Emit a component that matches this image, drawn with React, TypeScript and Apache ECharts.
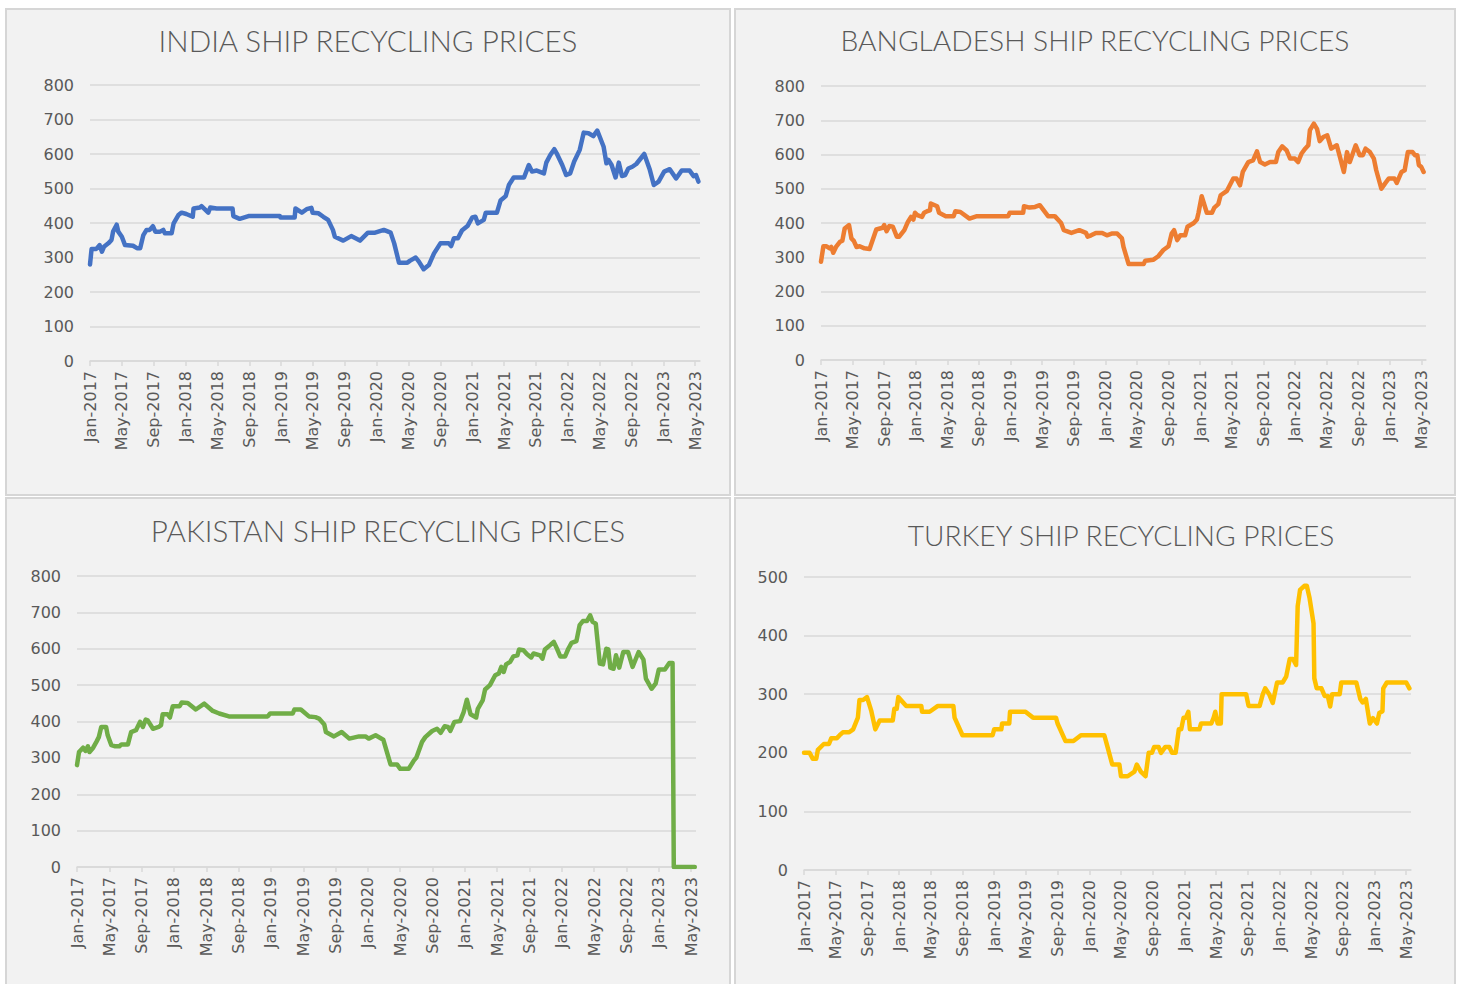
import React, { useEffect, useRef } from 'react';
import * as echarts from 'echarts';

// ---------- tick labels ----------
const xTickLabels = [
  'Jan-2017', 'May-2017', 'Sep-2017', 'Jan-2018', 'May-2018', 'Sep-2018', 'Jan-2019',
  'May-2019', 'Sep-2019', 'Jan-2020', 'May-2020', 'Sep-2020', 'Jan-2021', 'May-2021',
  'Sep-2021', 'Jan-2022', 'May-2022', 'Sep-2022', 'Jan-2023', 'May-2023',
];
const MONTHS_PER_TICK = 4;

// ---------- data: months since Jan-2017, price (USD/LDT) ----------
const indiaMonth = [0, 0.2, 0.8, 1.2, 1.5, 1.75, 2.3, 2.7, 2.9, 3.35, 3.55, 4.0, 4.4, 5.4, 5.9, 6.3, 6.7, 7.1, 7.5, 7.9, 8.2, 8.8, 9.2, 9.4, 10.25, 10.5, 11.1, 11.5, 12.1, 12.9, 13.0, 13.8, 14.0, 14.4, 14.85, 15.1, 15.9, 17.9, 18.0, 18.8, 19.9, 23.85, 23.9, 25.7, 25.8, 26.6, 27.2, 27.8, 27.95, 28.7, 29.3, 29.9, 30.5, 30.75, 31.8, 32.8, 33.9, 34.9, 35.8, 36.9, 37.75, 38.2, 38.8, 39.85, 40.2, 40.9, 41.3, 41.9, 42.55, 43.2, 44.0, 45.05, 45.35, 45.7, 46.2, 46.7, 47.4, 48.0, 48.4, 48.7, 49.45, 49.7, 51.1, 51.55, 52.2, 52.6, 53.2, 54.5, 55.1, 55.5, 56.1, 57.0, 57.3, 57.8, 58.3, 58.6, 59.3, 59.8, 60.3, 60.8, 61.5, 62.0, 62.6, 63.2, 63.7, 64.5, 64.85, 65.1, 65.5, 66.0, 66.4, 66.8, 67.2, 67.6, 68.1, 68.6, 69.6, 70.3, 70.8, 71.4, 72.1, 72.8, 73.6, 74.3, 75.3, 75.8, 76.1, 76.4];
const indiaPrice = [280, 325, 325, 336, 317, 331, 341, 351, 375, 395, 375, 360, 336, 334, 327, 327, 365, 380, 380, 391, 375, 375, 380, 370, 370, 399, 423, 430, 426, 418, 442, 445, 449, 440, 430, 445, 442, 442, 420, 412, 420, 420, 416, 416, 442, 430, 440, 444, 430, 428, 418, 409, 380, 360, 349, 362, 349, 372, 372, 380, 372, 341, 285, 285, 291, 300, 288, 266, 278, 312, 341, 341, 333, 356, 356, 378, 391, 416, 418, 399, 409, 430, 430, 465, 478, 510, 532, 532, 568, 549, 552, 544, 575, 597, 614, 602, 568, 539, 544, 578, 612, 662, 660, 652, 668, 621, 573, 583, 568, 532, 575, 536, 539, 558, 563, 571, 600, 554, 510, 520, 549, 556, 529, 552, 552, 536, 539, 520];

const bangladeshMonth = [0, 0.3, 0.7, 1.1, 1.3, 1.55, 1.9, 2.4, 2.7, 3.0, 3.55, 3.85, 4.15, 4.5, 4.9, 5.5, 6.15, 7.0, 7.8, 8.0, 8.3, 8.65, 9.1, 9.6, 9.9, 10.55, 11.0, 11.4, 11.7, 11.9, 12.2, 12.8, 13.05, 13.5, 13.8, 13.9, 14.7, 14.95, 15.8, 16.8, 17.0, 17.65, 18.8, 19.75, 23.7, 23.9, 25.6, 25.7, 26.4, 27.1, 27.7, 28.75, 29.6, 30.4, 30.75, 31.7, 32.7, 33.55, 33.75, 34.2, 34.8, 35.6, 36.2, 36.8, 37.5, 38.1, 38.3, 38.95, 40.85, 41.05, 42.1, 42.7, 43.35, 44.0, 44.4, 44.7, 45.1, 45.5, 46.1, 46.4, 47.2, 47.6, 47.8, 48.2, 48.85, 49.5, 49.8, 50.3, 50.6, 51.4, 52.2, 52.6, 53.05, 53.4, 54.1, 54.7, 55.2, 55.6, 56.2, 56.85, 57.6, 57.9, 58.4, 58.95, 59.4, 60.0, 60.4, 60.85, 61.3, 61.7, 61.9, 62.4, 62.8, 63.15, 63.6, 64.1, 64.6, 65.3, 65.7, 66.2, 66.6, 66.95, 67.7, 68.2, 68.6, 68.95, 69.5, 70.0, 70.3, 70.95, 71.4, 71.9, 72.6, 72.9, 73.5, 73.9, 74.3, 74.9, 75.2, 75.5, 75.7, 76.0, 76.3];
const bangladeshPrice = [287, 332, 332, 326, 330, 313, 330, 345, 348, 384, 394, 355, 348, 330, 332, 326, 324, 381, 386, 394, 376, 391, 389, 360, 360, 379, 403, 418, 410, 430, 423, 418, 430, 435, 437, 457, 449, 430, 420, 420, 434, 432, 413, 420, 420, 430, 430, 449, 445, 447, 452, 420, 420, 400, 379, 371, 379, 371, 360, 364, 371, 371, 364, 369, 369, 355, 330, 280, 280, 290, 293, 303, 321, 332, 369, 379, 350, 364, 364, 389, 400, 410, 430, 478, 430, 430, 445, 455, 481, 494, 530, 530, 510, 549, 578, 583, 609, 578, 571, 578, 578, 607, 624, 612, 588, 588, 578, 603, 617, 627, 671, 690, 675, 639, 651, 656, 617, 627, 593, 549, 607, 578, 627, 598, 598, 617, 607, 588, 554, 500, 515, 530, 530, 517, 549, 554, 607, 607, 598, 598, 569, 564, 549];

const pakistanMonth = [0, 0.25, 0.75, 1.05, 1.35, 1.55, 2.0, 2.4, 2.7, 3.0, 3.6, 3.8, 4.25, 4.65, 5.25, 5.5, 6.3, 6.7, 7.3, 7.8, 8.15, 8.5, 8.75, 9.4, 10.1, 10.4, 10.6, 11.2, 11.5, 11.85, 12.7, 12.95, 13.7, 14.7, 15.75, 16.8, 17.6, 18.8, 23.6, 23.9, 26.7, 26.9, 27.7, 28.7, 29.5, 29.95, 30.6, 30.8, 31.8, 32.75, 33.7, 34.9, 35.7, 36.1, 36.95, 37.9, 38.8, 39.6, 40.0, 41.05, 41.7, 42.0, 42.7, 43.1, 43.95, 44.55, 45.0, 45.5, 45.9, 46.2, 46.7, 47.4, 47.85, 48.25, 48.7, 49.4, 49.6, 50.2, 50.5, 51.1, 51.75, 52.2, 52.5, 52.8, 53.1, 53.6, 54.0, 54.5, 54.7, 55.25, 55.7, 56.2, 56.5, 57.3, 57.6, 57.9, 58.55, 59.0, 59.4, 59.8, 60.4, 60.8, 61.2, 61.8, 62.2, 62.6, 63.1, 63.5, 63.8, 64.2, 64.7, 65.1, 65.5, 65.75, 66.0, 66.4, 66.7, 67.1, 67.6, 68.2, 68.75, 69.5, 70.1, 70.4, 71.1, 71.6, 72.0, 72.75, 73.3, 73.7, 73.85, 76.45];
const pakistanPrice = [280, 316, 328, 319, 332, 316, 328, 344, 357, 385, 385, 362, 335, 332, 332, 337, 337, 371, 376, 399, 385, 405, 403, 380, 385, 390, 420, 420, 411, 442, 442, 452, 451, 433, 449, 429, 422, 414, 414, 422, 422, 433, 433, 414, 412, 408, 392, 371, 359, 371, 353, 359, 359, 353, 362, 350, 282, 282, 270, 270, 293, 301, 344, 357, 374, 380, 369, 387, 385, 374, 399, 401, 426, 460, 420, 411, 435, 458, 488, 500, 527, 532, 550, 536, 557, 564, 579, 582, 598, 596, 585, 576, 587, 582, 573, 598, 610, 619, 600, 579, 579, 600, 616, 621, 665, 676, 676, 692, 674, 669, 559, 557, 600, 598, 548, 545, 582, 548, 591, 591, 550, 591, 570, 518, 490, 504, 543, 543, 561, 561, 0, 0];

const turkeyMonth = [0, 0.7, 1.1, 1.55, 1.75, 2.5, 3.15, 3.45, 4.15, 4.5, 4.9, 5.7, 6.2, 6.8, 7.0, 7.45, 7.95, 8.5, 9.0, 9.55, 11.2, 11.4, 11.7, 11.9, 12.9, 14.8, 14.9, 15.85, 16.9, 18.85, 19.0, 20.0, 23.8, 24.0, 24.9, 25.0, 25.9, 26.0, 27.95, 28.9, 31.8, 32.0, 33.0, 34.0, 34.95, 37.9, 38.3, 38.9, 39.8, 40.0, 40.85, 41.7, 42.0, 42.5, 43.1, 43.5, 43.9, 44.2, 44.75, 45.05, 45.6, 46.1, 46.45, 46.9, 47.3, 47.6, 47.9, 48.2, 48.5, 48.7, 49.9, 50.1, 51.4, 51.7, 51.9, 52.2, 52.6, 52.7, 55.8, 56.1, 57.5, 57.9, 58.2, 58.7, 59.15, 59.7, 60.4, 60.85, 61.3, 61.7, 62.1, 62.3, 62.6, 63.15, 63.45, 63.8, 64.3, 64.4, 64.7, 65.3, 65.7, 66.1, 66.4, 66.65, 67.6, 67.8, 69.7, 70.2, 70.5, 70.9, 71.4, 71.8, 72.3, 72.6, 73.0, 73.1, 73.55, 76.0, 76.4];
const turkeyPrice = [200, 200, 190, 190, 205, 215, 215, 225, 225, 230, 235, 235, 240, 260, 290, 290, 295, 271, 240, 255, 255, 275, 275, 295, 280, 280, 270, 270, 280, 280, 260, 230, 230, 240, 240, 250, 250, 270, 270, 260, 260, 250, 220, 220, 230, 230, 210, 180, 180, 160, 160, 168, 180, 168, 160, 200, 200, 210, 210, 200, 210, 210, 200, 200, 240, 240, 260, 260, 270, 240, 240, 250, 250, 260, 270, 250, 250, 300, 300, 280, 280, 300, 310, 300, 285, 320, 320, 330, 360, 360, 350, 450, 478, 485, 485, 464, 421, 327, 310, 310, 297, 297, 279, 300, 300, 320, 320, 292, 286, 292, 250, 259, 250, 268, 271, 310, 320, 320, 310];

// ---------- layout & style ----------
const X_MAX = 76.6;
const TEXT_COLOR = '#595959';
const GRID_COLOR = '#d9d9d9';
const LABEL_FONT = 'DejaVu Sans';
const TITLE_FONT = 'Lato';

const panels = [
  { title: 'INDIA SHIP RECYCLING PRICES', color: '#4472C4', months: indiaMonth, prices: indiaPrice, yMax: 800,
    grid: { left: 90, top: 85, width: 610, height: 276 }, box: [5, 8, 726, 488], titleX: 368, titleY: 40, titleSize: 29.6 },
  { title: 'BANGLADESH SHIP RECYCLING PRICES', color: '#ED7D31', months: bangladeshMonth, prices: bangladeshPrice, yMax: 800,
    grid: { left: 821, top: 86, width: 605, height: 274 }, box: [734, 8, 722, 488], titleX: 1095, titleY: 40, titleSize: 28.2 },
  { title: 'PAKISTAN SHIP RECYCLING PRICES', color: '#70AD47', months: pakistanMonth, prices: pakistanPrice, yMax: 800,
    grid: { left: 77, top: 576, width: 619, height: 291 }, box: [5, 497, 726, 490], titleX: 388, titleY: 530, titleSize: 29.6 },
  { title: 'TURKEY SHIP RECYCLING PRICES', color: '#FFC000', months: turkeyMonth, prices: turkeyPrice, yMax: 500,
    grid: { left: 804, top: 577, width: 607, height: 293 }, box: [734, 497, 722, 490], titleX: 1121, titleY: 535, titleSize: 28.1 },
];

const tickValues = xTickLabels.map((_, i) => i * MONTHS_PER_TICK);

function buildOption() {
  return {
    animation: false,
    backgroundColor: 'transparent',
    title: panels.map((p) => ({
      text: p.title,
      left: p.titleX - 5,
      top: p.titleY - 5,
      textAlign: 'center',
      textVerticalAlign: 'middle',
      textStyle: { color: TEXT_COLOR, fontSize: p.titleSize, fontWeight: 300, fontFamily: TITLE_FONT },
    })),
    grid: panels.map((p) => ({ ...p.grid, containLabel: false, outerBoundsMode: 'none' })),
    xAxis: panels.map((p, i) => ({
      type: 'value',
      gridIndex: i,
      min: 0,
      max: X_MAX,
      splitLine: { show: false },
      axisLine: { show: true, lineStyle: { color: GRID_COLOR, width: 1.5 } },
      axisTick: { show: true, customValues: tickValues, length: 5, lineStyle: { color: GRID_COLOR, width: 1.5 } },
      axisLabel: {
        customValues: tickValues,
        rotate: 90,
        margin: 10,
        color: TEXT_COLOR,
        fontSize: 16,
        fontFamily: LABEL_FONT,
        formatter: (v: number) => xTickLabels[Math.round(v / MONTHS_PER_TICK)] ?? '',
      },
    })),
    yAxis: panels.map((p, i) => ({
      type: 'value',
      gridIndex: i,
      min: 0,
      max: p.yMax,
      interval: 100,
      axisLine: { show: false },
      axisTick: { show: false },
      splitLine: { show: true, lineStyle: { color: GRID_COLOR, width: 1.5 } },
      axisLabel: { color: TEXT_COLOR, fontSize: 16, margin: 16, fontFamily: LABEL_FONT },
    })),
    series: panels.map((p, i) => ({
      type: 'line',
      name: p.title,
      xAxisIndex: i,
      yAxisIndex: i,
      showSymbol: false,
      symbol: 'none',
      lineStyle: { color: p.color, width: 4.5, cap: 'round', join: 'round' },
      itemStyle: { color: p.color },
      data: p.months.map((m, k) => [m, p.prices[k]]),
    })),
  };
}

export default function App() {
  const ref = useRef<HTMLDivElement>(null);
  useEffect(() => {
    document.body.style.margin = '0';
    document.body.style.background = '#ffffff';
    if (!ref.current) return;
    const chart = echarts.init(ref.current, undefined, { renderer: 'svg' });
    chart.setOption(buildOption() as any);
    return () => chart.dispose();
  }, []);
  return (
    <div style={{ position: 'relative', width: 1460, height: 984, overflow: 'hidden', background: '#ffffff' }}>
      {panels.map((p) => (
        <div
          key={p.title}
          style={{
            position: 'absolute',
            left: p.box[0],
            top: p.box[1],
            width: p.box[2],
            height: p.box[3],
            boxSizing: 'border-box',
            background: '#f2f2f2',
            border: '2px solid #d6d6d6',
          }}
        />
      ))}
      <div ref={ref} style={{ position: 'absolute', left: 0, top: 0, width: 1460, height: 984 }} />
    </div>
  );
}
